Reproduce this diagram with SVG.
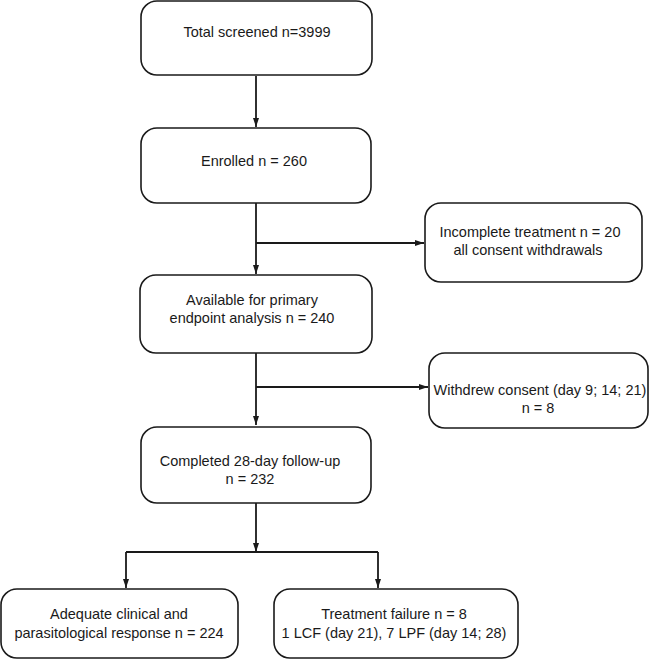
<svg xmlns="http://www.w3.org/2000/svg" width="650" height="660" viewBox="0 0 650 660">
  <style>
    .box { fill: #ffffff; stroke: #1a1a1a; stroke-width: 1.6; }
    .lbl { font-family: "Liberation Sans", Arial, sans-serif; font-size: 14.5px; fill: #1a1a1a; text-anchor: middle; }
    .conn { stroke: #1a1a1a; stroke-width: 1.8; fill: none; }
    .arr { marker-end: url(#ah); }
  </style>
  <defs>
    <marker id="ah" markerUnits="userSpaceOnUse" markerWidth="10" markerHeight="8" refX="9" refY="3" orient="auto">
      <path d="M0,0 L9,3 L0,6 Z" fill="#1a1a1a"/>
    </marker>
  </defs>
  <rect width="650" height="660" fill="#ffffff"/>

  <g id="connectors">
    <line class="conn arr" x1="256" y1="76" x2="256" y2="127"/>
    <line class="conn arr" x1="256" y1="203" x2="256" y2="274"/>
    <line class="conn arr" x1="256" y1="243" x2="424" y2="243"/>
    <line class="conn arr" x1="256" y1="353" x2="256" y2="425"/>
    <line class="conn arr" x1="256" y1="387" x2="428" y2="387"/>
    <line class="conn arr" x1="256" y1="503" x2="256" y2="552"/>
    <line class="conn" x1="126" y1="552" x2="378" y2="552"/>
    <line class="conn arr" x1="126" y1="552" x2="126" y2="588"/>
    <line class="conn arr" x1="378" y1="552" x2="378" y2="588"/>
  </g>

  <g id="screened">
    <rect class="box" x="141" y="1" width="231" height="74" rx="16"/>
    <text class="lbl" x="257" y="37">Total screened n=3999</text>
  </g>
  <g id="enrolled">
    <rect class="box" x="141" y="128" width="230" height="75" rx="16"/>
    <text class="lbl" x="254" y="166">Enrolled n = 260</text>
  </g>
  <g id="incomplete">
    <rect class="box" x="425" y="203" width="217" height="79" rx="16"/>
    <text class="lbl" x="530" y="237">Incomplete treatment n = 20</text>
    <text class="lbl" x="528" y="255">all consent withdrawals</text>
  </g>
  <g id="available">
    <rect class="box" x="140" y="275" width="232" height="78" rx="16"/>
    <text class="lbl" x="252" y="305">Available for primary</text>
    <text class="lbl" x="252" y="323">endpoint analysis n = 240</text>
  </g>
  <g id="withdrew">
    <rect class="box" x="429" y="353" width="219" height="75" rx="16"/>
    <text class="lbl" x="540" y="395">Withdrew consent (day 9; 14; 21)</text>
    <text class="lbl" x="538" y="413">n = 8</text>
  </g>
  <g id="completed">
    <rect class="box" x="141" y="427" width="230" height="76" rx="16"/>
    <text class="lbl" x="250" y="466">Completed 28-day follow-up</text>
    <text class="lbl" x="250" y="484">n = 232</text>
  </g>
  <g id="adequate">
    <rect class="box" x="1" y="589" width="237" height="69" rx="16"/>
    <text class="lbl" x="119" y="619">Adequate clinical and</text>
    <text class="lbl" x="119" y="638">parasitological response n = 224</text>
  </g>
  <g id="failure">
    <rect class="box" x="274" y="589" width="244" height="69" rx="16"/>
    <text class="lbl" x="394" y="619">Treatment failure n = 8</text>
    <text class="lbl" x="394" y="638">1 LCF (day 21), 7 LPF (day 14; 28)</text>
  </g>
</svg>
